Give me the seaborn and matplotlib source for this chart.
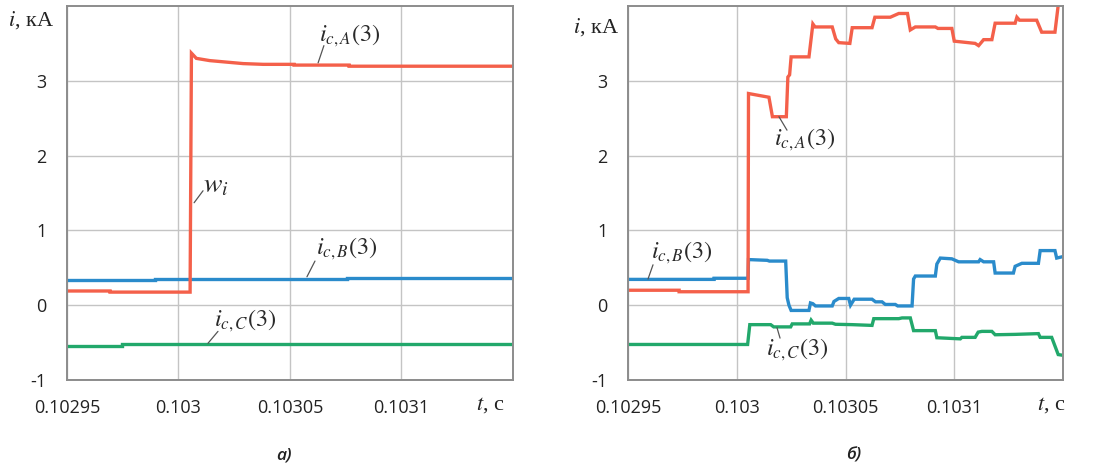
import matplotlib
matplotlib.use("Agg")
import matplotlib.pyplot as plt
import seaborn as sns
import numpy as np

sns.set_style("white")
plt.rcParams["font.family"] = ["Open Sans", "DejaVu Sans"]
plt.rcParams["mathtext.fontset"] = "stix"

# ---- time axis / ticks ----
T_MIN, T_MAX = 0.10295, 0.10315
xticks = [0.10295, 0.103, 0.10305, 0.1031]
xtick_labels = ["0.10295", "0.103", "0.10305", "0.1031"]
yticks = [-1, 0, 1, 2, 3]
ytick_labels = ["-1", "0", "1", "2", "3"]

# ---- panel a): phase currents, kA ----
a_t_A = [0.10295, 0.1029693, 0.1029693, 0.1030052, 0.1030058, 0.1030080, 0.1030140,
         0.1030215, 0.1030290, 0.1030380, 0.1030518, 0.1030518, 0.1030765, 0.1030765, 0.10315]
a_i_A = [0.19, 0.19, 0.175, 0.175, 3.37, 3.30, 3.27,
         3.25, 3.23, 3.22, 3.22, 3.21, 3.21, 3.195, 3.195]

a_t_B = [0.10295, 0.1029895, 0.1029895, 0.1030756, 0.1030756, 0.10315]
a_i_B = [0.342, 0.342, 0.356, 0.356, 0.37, 0.37]

a_t_C = [0.10295, 0.1029747, 0.1029747, 0.10315]
a_i_C = [-0.54, -0.54, -0.525, -0.525]

# ---- panel б): phase currents, kA ----
b_t_A = [0.10295, 0.1029735, 0.1029735, 0.1030052, 0.1030054, 0.1030148, 0.1030164,
         0.1030228, 0.1030235, 0.1030243, 0.1030250, 0.1030332, 0.1030350, 0.1030360,
         0.1030439, 0.1030455, 0.1030469, 0.1030520, 0.1030531, 0.1030622, 0.1030635,
         0.1030706, 0.1030745, 0.1030785, 0.1030798, 0.1030821, 0.1030913, 0.1030925,
         0.1030989, 0.1031000, 0.1031096, 0.1031112, 0.1031135, 0.1031173, 0.1031188,
         0.1031280, 0.1031288, 0.1031300, 0.1031379, 0.1031402, 0.1031463, 0.1031490]
b_i_A = [0.20, 0.20, 0.18, 0.18, 2.83, 2.78, 2.52,
         2.52, 3.05, 3.08, 3.32, 3.32, 3.76, 3.72,
         3.72, 3.56, 3.51, 3.50, 3.71, 3.71, 3.85,
         3.85, 3.90, 3.90, 3.68, 3.72, 3.72, 3.70,
         3.70, 3.53, 3.50, 3.47, 3.55, 3.55, 3.77,
         3.77, 3.85, 3.81, 3.81, 3.65, 3.65, 4.30]

b_t_B = [0.10295, 0.1029896, 0.1029896, 0.1030052, 0.1030054, 0.1030140, 0.1030150,
         0.1030225, 0.1030232, 0.1030240, 0.1030250, 0.1030332, 0.1030339, 0.1030350,
         0.1030362, 0.1030439, 0.1030447, 0.1030469, 0.1030515, 0.1030523, 0.1030540,
         0.1030622, 0.1030638, 0.1030668, 0.1030683, 0.1030729, 0.1030740, 0.1030806,
         0.1030813, 0.1030821, 0.1030913, 0.1030920, 0.1030936, 0.1030989, 0.1031020,
         0.1031112, 0.1031119, 0.1031135, 0.1031181, 0.1031188, 0.1031272, 0.1031280,
         0.1031311, 0.1031387, 0.1031395, 0.1031463, 0.1031471, 0.10315]
b_i_B = [0.345, 0.345, 0.36, 0.36, 0.61, 0.60, 0.59,
         0.59, 0.10, 0.0, -0.07, -0.07, 0.03, 0.02,
         -0.01, -0.01, 0.05, 0.09, 0.09, 0.0, 0.08,
         0.08, 0.045, 0.045, 0.01, 0.01, -0.01, -0.01,
         0.35, 0.39, 0.39, 0.55, 0.63, 0.62, 0.58,
         0.58, 0.61, 0.58, 0.58, 0.43, 0.43, 0.52,
         0.56, 0.56, 0.73, 0.73, 0.63, 0.65]

b_t_C = [0.10295, 0.1030050, 0.1030060, 0.1030156, 0.1030170, 0.1030248, 0.1030255,
         0.1030335, 0.1030342, 0.1030352, 0.1030439, 0.1030454, 0.1030531, 0.1030622,
         0.1030630, 0.1030745, 0.1030760, 0.1030798, 0.1030813, 0.1030913, 0.1030920,
         0.1031028, 0.1031035, 0.1031096, 0.1031110, 0.1031127, 0.1031173, 0.1031188,
         0.1031280, 0.1031387, 0.1031395, 0.1031448, 0.1031478, 0.10315]
b_i_C = [-0.525, -0.525, -0.26, -0.26, -0.29, -0.29, -0.25,
         -0.25, -0.20, -0.24, -0.24, -0.255, -0.26, -0.27,
         -0.18, -0.18, -0.17, -0.17, -0.34, -0.34, -0.435,
         -0.45, -0.43, -0.43, -0.36, -0.35, -0.35, -0.395,
         -0.39, -0.38, -0.43, -0.43, -0.66, -0.67]

RED, BLUE, GREEN = "#F4604A", "#2A8BCB", "#22A86B"
LW = 2.4

W, H = 1096, 468
fig = plt.figure(figsize=(W / 100, H / 100), dpi=100)


def px_axes(left, top, right, bottom):
    return fig.add_axes([left / W, 1 - bottom / H, (right - left) / W, (bottom - top) / H])


def style_axes(ax):
    ax.set_xlim(T_MIN, T_MAX)
    ax.set_ylim(-1, 4)
    ax.set_xticks(xticks)
    ax.set_xticklabels(xtick_labels)
    ax.set_yticks(yticks)
    ax.set_yticklabels(ytick_labels)
    ax.set_xticks([0.10315], minor=True)
    ax.set_yticks([4], minor=True)
    ax.grid(True, which="major", color="#c4c4c4", lw=1.0)
    ax.tick_params(axis="both", length=0, labelsize=13, colors="#222222")
    ax.tick_params(axis="x", pad=14)
    ax.tick_params(axis="y", pad=15)
    for s in ax.spines.values():
        s.set_color("#8c8c8c")
        s.set_linewidth(1.4)
    ax.set_xlabel("")
    ax.set_ylabel("")


def trace(ax, t, v, color):
    sns.lineplot(x=np.array(t), y=np.array(v), ax=ax, color=color, lw=LW,
                 estimator=None, sort=False, solid_joinstyle="miter")


def tag(ax, text, xy_text, lead0, lead1, size=17.5):
    ax.plot([lead0[0], lead1[0]], [lead0[1], lead1[1]], color="#555555", lw=0.9)
    ax.text(xy_text[0], xy_text[1], text, ha="center", va="center", fontsize=size,
            color="#2a2a2a")


ax1 = px_axes(67, 6, 513, 380)
trace(ax1, a_t_B, a_i_B, BLUE)
trace(ax1, a_t_C, a_i_C, GREEN)
trace(ax1, a_t_A, a_i_A, RED)
style_axes(ax1)
tag(ax1, r"$i_{c,A}(3)$", (0.1030769, 3.60), (0.1030626, 3.24), (0.1030652, 3.47))
tag(ax1, r"$w_i$", (0.1030168, 1.60), (0.1030070, 1.37), (0.1030110, 1.53), size=20)
tag(ax1, r"$i_{c,B}(3)$", (0.1030756, 0.75), (0.1030576, 0.38), (0.1030612, 0.59))
tag(ax1, r"$i_{c,C}(3)$", (0.1030298, -0.21), (0.1030132, -0.51), (0.1030177, -0.35))

ax2 = px_axes(628, 6, 1063, 380)
trace(ax2, b_t_B, b_i_B, BLUE)
trace(ax2, b_t_C, b_i_C, GREEN)
trace(ax2, b_t_A, b_i_A, RED)
style_axes(ax2)
tag(ax2, r"$i_{c,A}(3)$", (0.1030314, 2.21), (0.1030194, 2.52), (0.1030231, 2.34))
tag(ax2, r"$i_{c,B}(3)$", (0.1029748, 0.70), (0.1029592, 0.35), (0.1029615, 0.54))
tag(ax2, r"$i_{c,C}(3)$", (0.1030277, -0.59), (0.1030185, -0.30), (0.1030199, -0.44))


def ftext(x, y, s, **kw):
    fig.text(x / W, 1 - y / H, s, **kw)


serif = ["Liberation Serif", "DejaVu Serif"]
ftext(31, 20, r"$i$, кА", ha="center", va="center", fontsize=16, family=serif, color="#222222")
ftext(596, 27, r"$i$, кА", ha="center", va="center", fontsize=16, family=serif, color="#222222")
ftext(490, 405, r"$t$, с", ha="center", va="center", fontsize=16, family=serif, color="#222222")
ftext(1051, 405, r"$t$, с", ha="center", va="center", fontsize=16, family=serif, color="#222222")
ftext(284, 456, "а)", ha="center", va="center", fontsize=12.5, style="italic",
      weight="semibold", color="#222222")
ftext(854, 455, "б)", ha="center", va="center", fontsize=12.5, style="italic",
      weight="semibold", color="#222222")

fig.savefig("out.png", dpi=100)
